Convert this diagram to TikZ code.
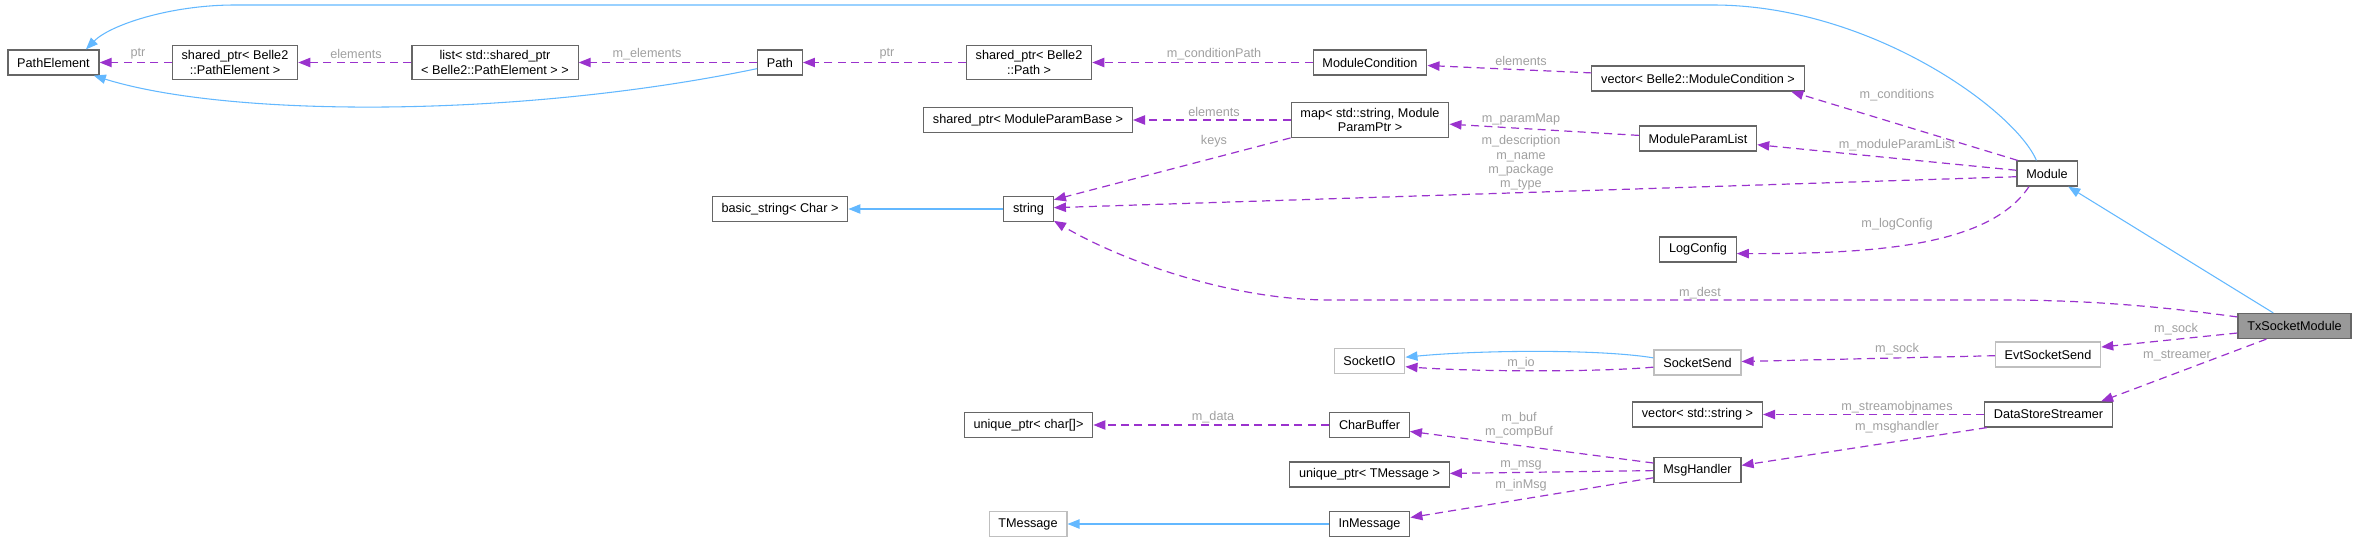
\documentclass[tikz,border=0pt]{standalone}
\usepackage{fontspec}
\setmainfont{Liberation Sans}
\usetikzlibrary{arrows.meta}

\definecolor{inhblue}{HTML}{63B8FF}
\definecolor{mempurple}{HTML}{9A32CD}
\definecolor{boxgray}{HTML}{666666}
\definecolor{undocgray}{HTML}{BFBFBF}
\definecolor{lblgray}{HTML}{A0A0A0}
\definecolor{txfill}{HTML}{999999}

\begin{document}
\begin{tikzpicture}[x=0.75pt,y=-0.75pt]
\tikzstyle{box}=[draw=boxgray, fill=white, line width=0.9pt, inner xsep=7pt, inner ysep=4pt, minimum height=18.75pt, align=center, font=\fontsize{9.5}{11}\selectfont]
\tikzstyle{lbl}=[text=lblgray, inner sep=0pt, align=center, font=\fontsize{9.5}{10.8}\selectfont]
\tikzstyle{inherit}=[draw=inhblue, line width=0.8pt, -{Triangle[length=9pt,width=7pt]}, inhblue]
\tikzstyle{member}=[draw=mempurple, line width=0.9pt, dash pattern=on 6pt off 4pt, -{Triangle[length=9pt,width=7pt]}, mempurple]

\useasboundingbox (0,0) rectangle (2360,542);

\node[box] (pathel) at (53.5,62.5) {PathElement};
\node[box] (spPathEl) at (235,62.5) {shared\_ptr< Belle2\\::PathElement >};
\node[box] (listPE) at (495,62.5) {list< std::shared\_ptr\\< Belle2::PathElement > >};
\node[box] (path) at (780,62.5) {Path};
\node[box] (spPath) at (1029,62.5) {shared\_ptr< Belle2\\::Path >};
\node[box] (modcond) at (1370,62.5) {ModuleCondition};
\node[box] (vecMC) at (1698,78.5) {vector< Belle2::ModuleCondition >};
\node[box] (spMPB) at (1028,120) {shared\_ptr< ModuleParamBase >};
\node[box] (parmap) at (1370,120) {map< std::string, Module\\ParamPtr >};
\node[box] (mpl) at (1698,138.5) {ModuleParamList};
\node[box] (module) at (2047,173.5) {Module};
\node[box] (bstr) at (780,209) {basic\_string< Char >};
\node[box] (str) at (1028.5,209) {string};
\node[box] (logcfg) at (1698,249.5) {LogConfig};
\node[box, fill=txfill] (tx) at (2294.5,326) {TxSocketModule};
\node[box, draw=undocgray] (sockio) at (1369.5,361) {SocketIO};
\node[box, draw=undocgray] (socksend) at (1697.5,362.5) {SocketSend};
\node[box, draw=undocgray] (evt) at (2048,354.5) {EvtSocketSend};
\node[box] (vecstr) at (1697.5,414.5) {vector< std::string >};
\node[box] (dss) at (2048.5,414.5) {DataStoreStreamer};
\node[box] (uchar) at (1028.5,425) {unique\_ptr< char[]>};
\node[box] (charbuf) at (1369.5,425) {CharBuffer};
\node[box] (utmsg) at (1369.5,474.5) {unique\_ptr< TMessage >};
\node[box] (msgh) at (1697.5,470) {MsgHandler};
\node[box, draw=undocgray] (tmsg) at (1028,524) {TMessage};
\node[box] (inmsg) at (1369.5,524) {InMessage};

% base classes
\draw[inherit] (module.129) .. controls (2015,110) and (1870,5) .. (1713,5) -- (235,5) .. controls (170,5) and (110,25) .. (pathel.22);
\draw[inherit] (path.195) .. controls (520,118) and (230,118) .. (pathel.-18);
\draw[inherit] (str) -- (bstr);
\draw[inherit] (tx) -- (module);
\draw[inherit] (socksend.174) .. controls (1600,349) and (1480,350) .. (sockio.6);
\draw[inherit] (inmsg) -- (tmsg);

% members
\foreach \a/\b in {spPathEl/pathel, listPE/spPathEl, path/listPE, spPath/path, modcond/spPath, parmap/spMPB, charbuf/uchar, dss/vecstr, msgh/utmsg, evt/socksend} {
\draw[member] (\a) -- (\b);
}
\draw[member] (vecMC.177) -- (modcond.-3);
\draw[member] (parmap.south west) -- (str.20);
\draw[member] (mpl.177) -- (parmap.-3);
\draw[member] (module.156) -- (vecMC.-8);
\draw[member] (module.174) -- (mpl.-6);
\draw[member] (module.186) -- (str.3);
\draw[member] (module.216) .. controls (1990,245) and (1880,254) .. (logcfg.-6);
\draw[member] (tx.171) .. controls (2150,305) and (2080,300) .. (2000,300) -- (1330,300) .. controls (1230,300) and (1120,260) .. (str.-25);
\draw[member] (tx.187) -- (evt.8);
\draw[member] (socksend.186) .. controls (1600,372) and (1480,372) .. (sockio.-9);
\draw[member] (tx.205) -- (dss.14);
\draw[member] (dss.192) -- (msgh.6);
\draw[member] (msgh.171) -- (charbuf.-9);
\draw[member] (msgh.190) -- (inmsg.9);

\foreach \t/\x/\y [count=\i] in {ptr/138/54, elements/356/54, m\_elements/647/54, ptr/887/54, m\_conditionPath/1214/54, elements/1521/61, elements/1214/112, keys/1214/141, m\_paramMap/1521/119, m\_description\\m\_name\\m\_package\\m\_type/1521/163, m\_conditions/1897/95, m\_moduleParamList/1897/145, m\_logConfig/1897/224, m\_dest/1700/293, m\_sock/2176/329, m\_sock/1897/349, m\_io/1521/363, m\_streamer/2177/356, m\_streamobjnames/1897/407, m\_msghandler/1897/427, m\_data/1213/417, m\_buf\\m\_compBuf/1519/425.5, m\_msg/1521/465, m\_inMsg/1521/485} {
\node[lbl] (lab\i) at (\x,\y) {\t};
}

\end{tikzpicture}
\end{document}
